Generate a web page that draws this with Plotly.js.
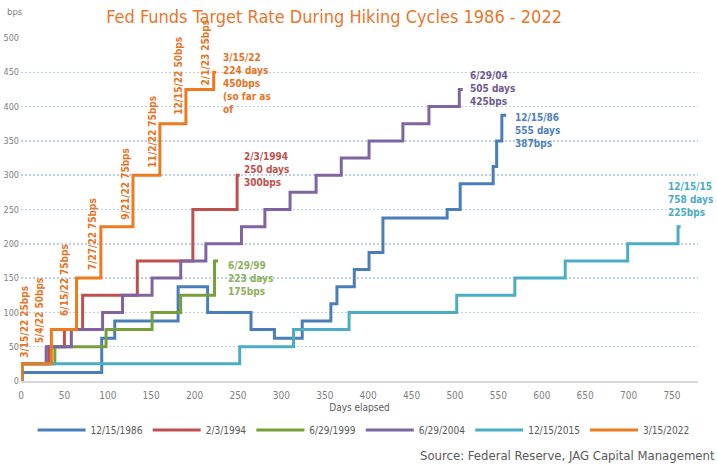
<!DOCTYPE html>
<html>
<head>
<meta charset="utf-8">
<script src="https://cdn.plot.ly/plotly-3.0.1.min.js"></script>
<style>html,body{margin:0;padding:0;background:#fff}#chart{width:717px;height:466px}</style>
</head>
<body>
<div id="chart"></div>
<script>
// ---- data (business days elapsed, bps above cycle start) ----
const seriesNames = ["12/15/1986", "2/3/1994", "6/29/1999", "6/29/2004", "12/15/2015", "3/15/2022"];

const days1986 = [0, 1, 93, 108, 181, 215, 265, 292, 324, 357, 364, 384, 401, 417, 491, 506, 544, 548, 554, 559];
const bps1986  = [0, 12.5, 62.5, 87.5, 137.5, 100, 75, 62.5, 87.5, 112.5, 137.5, 162.5, 187.5, 237.5, 250, 287.5, 312.5, 350, 387.5, 387.5];

const days1994 = [0, 1, 32, 50, 71, 134, 198, 249, 252];
const bps1994  = [0, 25, 50, 75, 125, 175, 250, 300, 300];

const days1999 = [0, 1, 39, 98, 151, 184, 223, 227];
const bps1999  = [0, 25, 50, 75, 100, 125, 175, 175];

const days2004 = [0, 1, 29, 58, 94, 117, 151, 184, 213, 254, 281, 310, 340, 369, 401, 440, 470, 505, 509];
const bps2004  = [0, 25, 50, 75, 100, 125, 150, 175, 200, 225, 250, 275, 300, 325, 350, 375, 400, 425, 425];

const days2015 = [0, 1, 252, 314, 378, 502, 569, 627, 699, 757, 760];
const bps2015  = [0, 25, 50, 75, 100, 125, 150, 175, 200, 225, 225];

const days2022 = [0, 1, 35, 64, 92, 129, 160, 190, 222, 225];
const bps2022  = [0, 25, 75, 150, 225, 300, 375, 425, 450, 450];

// hike labels for the 2022 cycle
const hikeLabels2022 = ["3/15/22 25bps", "5/4/22 50bps", "6/15/22 75bps", "7/27/22 75bps", "9/21/22 75bps", "11/2/22 75bps", "12/15/22 50bps", "2/1/23 25bps"];
const hikeLabelDays  = [4.6, 20.7, 50.7, 83, 121, 152, 182, 212];
const hikeLabelBps   = [31, 52, 92, 159, 232, 308, 385, 428];

// end-of-cycle labels
const endLabels = ["12/15/86<br>555 days<br>387bps", "2/3/1994<br>250 days<br>300bps", "6/29/99<br>223 days<br>175bps", "6/29/04<br>505 days<br>425bps", "12/15/15<br>758 days<br>225bps", "3/15/22<br>224 days<br>450bps<br>(so far as<br>of"];
const endLabelDays = [567, 255, 236, 515, 743, 230];
const endLabelBps  = [365, 309, 150, 426, 264, 433];

const yTicks = [0, 50, 100, 150, 200, 250, 300, 350, 400, 450, 500];
const xTicks = [0, 50, 100, 150, 200, 250, 300, 350, 400, 450, 500, 550, 600, 650, 700, 750];

// ---- styling ----
const lineColors  = ["#4A7EBB", "#C0504D", "#77A03A", "#8064A2", "#4BACC6", "#EE7A1E"];
const labelColors = ["#4F81BD", "#C0504D", "#8DB05A", "#6E5A8E", "#4BACC6", "#E8731E"];
const FONT = "'DejaVu Sans Condensed', 'Liberation Sans Narrow', sans-serif";

const xs = [days1986, days1994, days1999, days2004, days2015, days2022];
const ys = [bps1986, bps1994, bps1999, bps2004, bps2015, bps2022];

const traces = seriesNames.map((n, i) => ({
  type: "scatter", mode: "lines", name: n,
  x: xs[i], y: ys[i],
  line: {shape: "hv", color: lineColors[i], width: 3},
  hoverinfo: "skip"
}));

const annotations = [];
hikeLabels2022.forEach((t, i) => {
  annotations.push({
    xref: "x", yref: "y", x: hikeLabelDays[i], y: hikeLabelBps[i],
    text: t, textangle: -90, showarrow: false,
    xanchor: "center", yanchor: "bottom",
    font: {family: FONT, size: 10, color: labelColors[5], weight: "bold"}
  });
});
endLabels.forEach((t, i) => {
  annotations.push({
    xref: "x", yref: "y", x: endLabelDays[i], y: endLabelBps[i],
    text: t, showarrow: false, align: "left",
    xanchor: "left", yanchor: "middle",
    font: {family: FONT, size: 10, color: labelColors[i], weight: "bold"}
  });
});
annotations.push({
  xref: "paper", yref: "paper", x: -0.024, y: 1.076, xanchor: "left", yanchor: "middle",
  text: "bps", showarrow: false, font: {family: FONT, size: 9.5, color: "#7F7F7F"}
});
annotations.push({
  xref: "paper", yref: "paper", x: 1.028, y: -0.216, xanchor: "right", yanchor: "middle",
  text: "Source: Federal Reserve, JAG Capital Management", showarrow: false,
  font: {family: FONT, size: 13, color: "#595959"}
});

const layout = {
  width: 717, height: 466,
  margin: {l: 21, r: 19, t: 38, b: 85, pad: 0},
  paper_bgcolor: "#ffffff", plot_bgcolor: "#ffffff",
  title: {
    text: "Fed Funds Target Rate During Hiking Cycles 1986 - 2022",
    x: 0.466, xanchor: "center", xref: "container",
    y: 0.9635, yanchor: "middle", yref: "container",
    font: {family: FONT, size: 18, color: "#E8762B"}
  },
  xaxis: {
    range: [0, 780], tickvals: xTicks, ticktext: xTicks.map(String),
    showgrid: false, zeroline: false,
    showline: true, linecolor: "#D9D9D9", linewidth: 2,
    ticks: "", ticklabelstandoff: 4,
    tickfont: {family: FONT, size: 10, color: "#7F7F7F"},
    title: {text: "Days elapsed", standoff: 4, font: {family: FONT, size: 10, color: "#595959"}}
  },
  yaxis: {
    range: [0, 500], tickvals: yTicks, ticktext: yTicks.map(String),
    showgrid: true, gridcolor: "#BCD0E8", gridwidth: 1.5, griddash: "1.5px,2.5px",
    zeroline: false, showline: false, ticks: "", ticklabelstandoff: 1,
    tickfont: {family: FONT, size: 9, color: "#7F7F7F"}
  },
  showlegend: true,
  legend: {
    orientation: "h", x: 0.506, xanchor: "center", y: -0.143, yanchor: "middle",
    itemwidth: 48, font: {family: FONT, size: 10, color: "#595959"},
    bgcolor: "rgba(0,0,0,0)"
  },
  annotations: annotations
};

Plotly.newPlot("chart", traces, layout, {displayModeBar: false, staticPlot: true});
</script>
</body>
</html>
